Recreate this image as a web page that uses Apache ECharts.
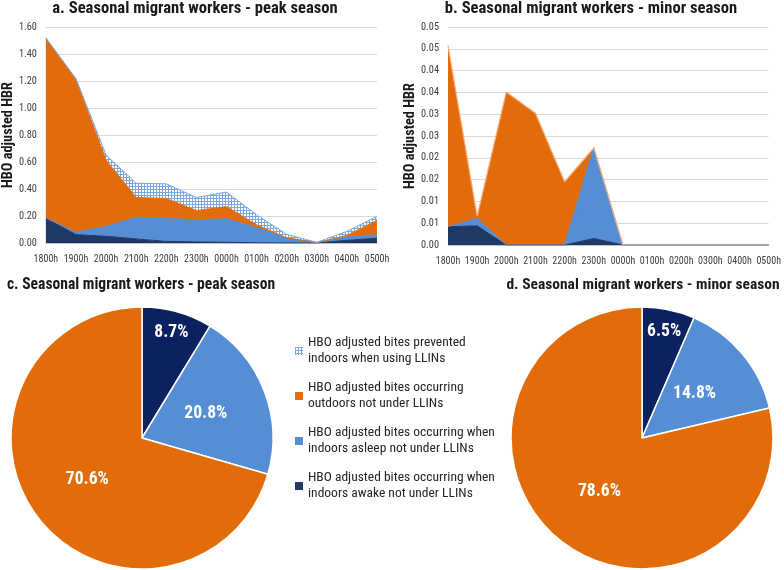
<!DOCTYPE html>
<html><head><meta charset="utf-8">
<script src="https://cdn.jsdelivr.net/npm/echarts@6/dist/echarts.min.js"></script>
<style>html,body{margin:0;padding:0;background:#fff}#c{width:784px;height:570px}</style>
</head><body><div id="c"></div>
<script>
const hours = ['1800h','1900h','2000h','2100h','2200h','2300h','0000h','0100h','0200h','0300h','0400h','0500h'];
const seriesNames = [
  'HBO adjusted bites prevented indoors when using LLINs',
  'HBO adjusted bites occurring outdoors not under LLINs',
  'HBO adjusted bites occurring when indoors asleep not under LLINs',
  'HBO adjusted bites occurring when indoors awake not under LLINs'
];
const legendLines = [
  ['HBO adjusted bites prevented','indoors when using LLINs'],
  ['HBO adjusted bites occurring','outdoors not under LLINs'],
  ['HBO adjusted bites occurring when','indoors asleep not under LLINs'],
  ['HBO adjusted bites occurring when','indoors awake not under LLINs']
];
const titles = [
  'a. Seasonal migrant workers - peak season',
  'b. Seasonal migrant workers - minor season',
  'c. Seasonal migrant workers - peak season',
  'd. Seasonal migrant workers - minor season'
];
// Peak season (panel a), stacked bottom -> top: awake, asleep, outdoors, prevented
const peakAwake     = [0.185,0.062,0.050,0.030,0.012,0.008,0.005,0.002,0.000,0.000,0.020,0.035];
const peakAsleep    = [0.000,0.018,0.073,0.160,0.173,0.162,0.175,0.113,0.037,0.003,0.025,0.025];
const peakOutdoor   = [1.330,1.128,0.492,0.147,0.145,0.070,0.090,0.020,0.000,0.000,0.010,0.107];
const peakPrevented = [0.005,0.010,0.037,0.106,0.108,0.097,0.107,0.075,0.027,0.002,0.031,0.030];
// Minor season (panel b)
const minorAwake     = [0.0042,0.0044,0,0,0,0.0015,0,0,0,0,0,0];
const minorAsleep    = [0,0.0017,0,0,0,0.0208,0,0,0,0,0,0];
const minorOutdoor   = [0.0416,0.0005,0.0351,0.0302,0.0145,0,0,0,0,0,0,0];
const minorPrevented = [0,0,0,0,0,0,0,0,0,0,0,0];
// Pie shares (%), order: awake, asleep, outdoors
const peakShares  = [8.7,20.8,70.6];
const minorShares = [6.5,14.8,78.6];

// ---- font selection / sizing (style only) ----
const mctx = document.createElement('canvas').getContext('2d');
function hasFont(f){
  const s = 'abcdefghijklmnopqrstuvwxyz0123456789';
  mctx.font = '40px monospace'; const a = mctx.measureText(s).width;
  mctx.font = "40px '" + f + "', monospace"; const b = mctx.measureText(s).width;
  return Math.abs(a-b) > 0.5;
}
const fontCandidates = ['Liberation Sans Narrow','Roboto Condensed','Open Sans Condensed','DejaVu Sans Condensed','Roboto','Liberation Sans'];
const FAM = fontCandidates.find(hasFont) || 'sans-serif';
const FONT = "'" + FAM + "', sans-serif";
function fit(text, weight, target){
  mctx.font = weight + ' 100px ' + FONT;
  return Math.round(100*target/mctx.measureText(text).width*10)/10;
}
const fsTitleA = fit(titles[0], 'bold', 285);
const fsTitleB = fit(titles[1], 'bold', 292);
const fsTitleC = fit(titles[2], 'bold', 268);
const fsTitleD = fit(titles[3], 'bold', 274);
const fsAxisX  = fit('1800h', 'normal', 24.5);
const fsAxisY  = fit('1.60', 'normal', 18);
const fsName   = fit('HBO adjusted HBR', 'bold', 106);
const fsLegend = fit(legendLines[0][0], 'normal', 158);
const fsPie    = fit('70.6%', 'bold', 43);

const C_OUT = '#E36C0A', C_ASLEEP = '#558ED5', C_AWAKE_AREA = '#1F3864', C_AWAKE_PIE = '#0C2160';

function hatch(){
  const c = document.createElement('canvas'); c.width = 3; c.height = 3;
  const g = c.getContext('2d');
  g.fillStyle = '#ffffff'; g.fillRect(0,0,3,3);
  g.fillStyle = '#7ea7de'; g.fillRect(0,0,3,1); g.fillRect(0,0,1,3);
  return c;
}
const hatchFill = {image: hatch(), repeat: 'repeat'};

function areaSeries(name, data, color, gridIdx, lineColor, lineWidth){
  return {
    type:'line', name, data, stack:'s'+gridIdx, xAxisIndex:gridIdx, yAxisIndex:gridIdx,
    showSymbol:false, symbol:'none', smooth:false,
    itemStyle:{color},
    lineStyle:{color: lineColor || color, width: lineWidth === undefined ? 1 : lineWidth},
    areaStyle:{color, opacity:1},
    emphasis:{disabled:true}, silent:true
  };
}

const pieCenters = [[142,438],[642,438]];
const pieR = 131;
function pieSeries(shares, center, awakeColor, withPrev){
  const data = [];
  if (withPrev) data.push({name:seriesNames[0], value:0, itemStyle:{color:hatchFill}, label:{show:false}});
  data.push({name:seriesNames[3], value:shares[0], itemStyle:{color:awakeColor}});
  data.push({name:seriesNames[2], value:shares[1], itemStyle:{color:C_ASLEEP}});
  data.push({name:seriesNames[1], value:shares[2], itemStyle:{color:C_OUT}});
  const total = shares.reduce((a,b)=>a+b,0);
  return {
    type:'pie', center, radius:pieR, startAngle:90, clockwise:true, silent:true,
    itemStyle:{borderColor:'#ffffff', borderWidth:1.5},
    label:{show:true, position:'inside', color:'#ffffff', fontFamily:FONT, fontWeight:'bold', fontSize:fsPie,
      formatter: p => p.value.toFixed(1) + '%'},
    labelLine:{show:false},
    labelLayout: function(p){
      const idx = p.dataIndex - (withPrev ? 1 : 0);
      if (idx !== 0) return {};
      const theta = (shares[0]/2/total)*2*Math.PI;
      const shift = 0.31*pieR;
      return {dx: shift*Math.sin(theta), dy: -shift*Math.cos(theta)};
    },
    data
  };
}

function xAxis(gridIndex){
  return {type:'category', gridIndex, data:hours, boundaryGap:false,
    axisLine:{lineStyle:{color:'#bfbfbf'}}, axisTick:{show:false},
    axisLabel:{interval:0, margin:11, color:'#404040', fontFamily:FONT, fontSize:fsAxisX},
    splitLine:{show:false}};
}
function yAxis(gridIndex, max, interval, fmt, gap){
  return {type:'value', gridIndex, min:0, max, interval,
    name:'HBO adjusted HBR', nameLocation:'middle', nameRotate:90, nameGap:gap,
    nameTextStyle:{color:'#1a1a1a', fontFamily:FONT, fontWeight:'bold', fontSize:fsName},
    axisLine:{show:false}, axisTick:{show:false},
    axisLabel:{formatter:fmt, margin:9, color:'#404040', fontFamily:FONT, fontSize:fsAxisY},
    splitLine:{lineStyle:{color:'#d9d9d9'}}};
}

const titleStyle = {color:'#1a1a1a', fontFamily:FONT, fontWeight:'bold'};
const option = {
  backgroundColor:'#ffffff',
  animation:false,
  title:[
    {text:titles[0], left:195, top:0, padding:0, textAlign:'center', textStyle:Object.assign({fontSize:fsTitleA}, titleStyle)},
    {text:titles[1], left:591, top:0, padding:0, textAlign:'center', textStyle:Object.assign({fontSize:fsTitleB}, titleStyle)},
    {text:titles[2], left:141, top:277, padding:0, textAlign:'center', textStyle:Object.assign({fontSize:fsTitleC}, titleStyle)},
    {text:titles[3], left:643, top:277, padding:0, textAlign:'center', textStyle:Object.assign({fontSize:fsTitleD}, titleStyle)}
  ],
  grid:[
    {left:43, right:407, top:27, bottom:327},
    {left:448, right:12, top:27, bottom:325}
  ],
  xAxis:[xAxis(0), xAxis(1)],
  yAxis:[
    yAxis(0, 1.6, 0.2, v => v.toFixed(2), 30),
    yAxis(1, 0.05, 0.005, v => (Math.round(v*100 + 1e-6)/100).toFixed(2), 30)
  ],
  legend:{
    orient:'vertical', left:290, top:322, itemGap:-3, itemWidth:8, itemHeight:8, icon:'rect',
    selectedMode:false,
    data:seriesNames,
    formatter: name => legendLines[seriesNames.indexOf(name)].join('\n'),
    textStyle:{color:'#262626', fontFamily:FONT, fontSize:fsLegend, lineHeight:16, padding:[16,0,0,0]}
  },
  series:[
    pieSeries(peakShares, pieCenters[0], C_AWAKE_PIE, true),
    pieSeries(minorShares, pieCenters[1], C_AWAKE_PIE, false),
    areaSeries(seriesNames[3], peakAwake, C_AWAKE_AREA, 0),
    areaSeries(seriesNames[2], peakAsleep, C_ASLEEP, 0),
    areaSeries(seriesNames[1], peakOutdoor, C_OUT, 0),
    areaSeries(seriesNames[0], peakPrevented, hatchFill, 0, '#7ea7de', 1),
    areaSeries(seriesNames[3], minorAwake, C_AWAKE_AREA, 1),
    areaSeries(seriesNames[2], minorAsleep, C_ASLEEP, 1),
    areaSeries(seriesNames[1], minorOutdoor, C_OUT, 1, '#F4B183', 1.2),
    areaSeries(seriesNames[0], minorPrevented, hatchFill, 1, '#7ea7de', 0)
  ]
};
const chart = echarts.init(document.getElementById('c'), null, {renderer:'canvas'});
chart.setOption(option);
</script>
</body></html>
